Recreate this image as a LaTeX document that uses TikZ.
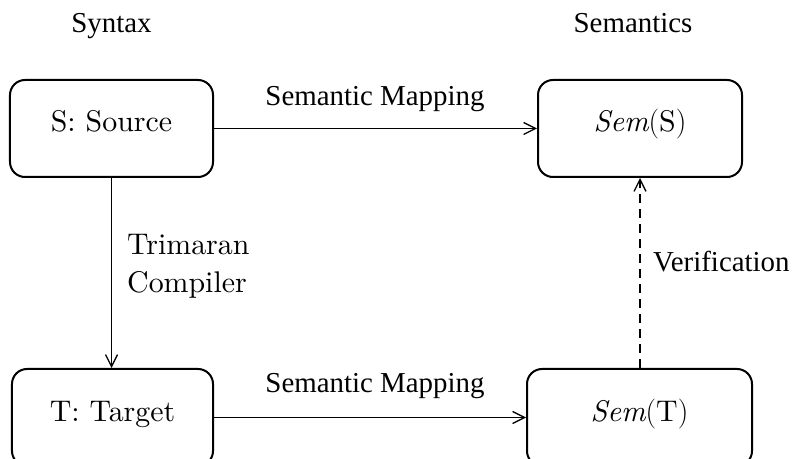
\RequirePackage{fix-cm}
\documentclass[tikz,border=0pt]{standalone}
\usepackage{fontspec}
\setmainfont{lmroman10-regular.otf}[ItalicFont=lmroman10-italic.otf, BoldFont=lmroman10-bold.otf]
\newfontfamily\tms{Liberation Serif}
\usetikzlibrary{arrows.meta}
\tikzset{
  box/.style={draw, line width=2bp, rounded corners=15bp, inner sep=0pt,
    text height=52bp, text depth=45bp, font=\fontsize{30}{36}\selectfont},
  conn/.style={line width=1.7bp, -{Straight Barb[length=12bp,width=12bp,line width=1.3bp]}},
  tlabel/.style={inner sep=0pt, font=\tms\fontsize{29}{34}\selectfont},
  cmlabel/.style={inner sep=0pt, font=\fontsize{30}{36}\selectfont}
}
\begin{document}
\begin{tikzpicture}[x=1bp,y=-1bp]
\useasboundingbox (0,0) rectangle (792,459);
% boxes
\node[box, minimum width=203bp] (S) at (111.5,128.5) {S: Source};
\node[box, minimum width=204bp] (SS) at (640,128.5) {$\mathit{Sem}(\mathrm{S})$};
\node[box, minimum width=201bp] (T) at (112.5,417.5) {T: Target};
\node[box, minimum width=225bp] (ST) at (639.5,417.5) {$\mathit{Sem}(\mathrm{T})$};
% headers
\node[tlabel, anchor=base] (syn) at (111.5,33) {Syntax};
\node[tlabel, anchor=base] (sem) at (633,33) {Semantics};
% connectors
\draw[conn] (S.east) -- (SS.west);
\draw[conn] (T.east) -- (ST.west);
\draw[conn] (S.south) -- (S.south |- T.north);
\draw[conn, dash pattern=on 9bp off 6bp] (SS.south |- ST.north) -- (SS.south);
% labels
\node[tlabel, anchor=base] (m1) at (375,106) {Semantic Mapping};
\node[tlabel, anchor=base] (m2) at (375,392) {Semantic Mapping};
\node[cmlabel, anchor=base west] (tc1) at (127,255) {Trimaran};
\node[cmlabel, anchor=base west] (tc2) at (127,293) {Compiler};
\node[tlabel, anchor=base west] (ver) at (653,272) {Verification};
\end{tikzpicture}
\end{document}
